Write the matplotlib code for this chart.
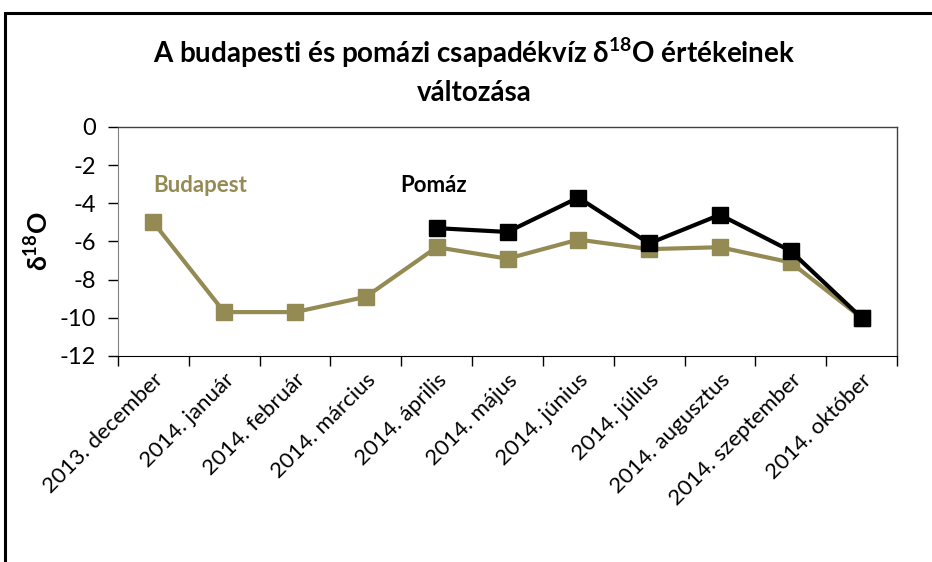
import matplotlib
matplotlib.use('Agg')
import matplotlib.pyplot as plt
import matplotlib.patches as patches

plt.rcParams['font.family'] = ['Lato', 'DejaVu Sans']
plt.rcParams['mathtext.default'] = 'regular'

# Data
months = ['2013. december', '2014. január', '2014. február', '2014. március',
          '2014. április', '2014. május', '2014. június', '2014. július',
          '2014. augusztus', '2014. szeptember', '2014. október']
budapest = [-5.0, -9.7, -9.7, -8.9, -6.3, -6.9, -5.9, -6.4, -6.3, -7.1, -10.0]
pomaz_idx = [4, 5, 6, 7, 8, 9, 10]
pomaz = [-5.3, -5.5, -3.7, -6.1, -4.6, -6.5, -10.0]

olive = '#948A54'

fig = plt.figure(figsize=(9.32, 5.62), dpi=100)
# outer chart border (only left and top visible in the crop)
fig.patches.append(patches.Rectangle((5 / 932, -0.1), 1.2, (562 - 13) / 562 + 0.1,
                                     transform=fig.transFigure, fill=False,
                                     edgecolor='black', linewidth=2.2))

ax = fig.add_axes([118 / 932, 1 - 356 / 562, (897 - 118) / 932, (356 - 127) / 562])

x = list(range(len(months)))
ax.plot(x, budapest, color=olive, linewidth=3, marker='s', markersize=11.5,
        markeredgecolor=olive, markerfacecolor=olive)
ax.plot(pomaz_idx, pomaz, color='black', linewidth=3, marker='s', markersize=11.5,
        markeredgecolor='black', markerfacecolor='black')

ax.set_xlim(-0.5, len(months) - 0.5)
ax.set_ylim(-12, 0)
ax.set_yticks(range(-12, 1, 2))
ax.set_yticklabels([str(v) for v in range(-12, 1, 2)], fontsize=17)

# ticks between categories, labels at centers
ax.set_xticks([i - 0.5 for i in range(len(months) + 1)])
ax.set_xticklabels([])
ax.set_xticks(x, minor=True)
ax.set_xticklabels(months, minor=True, rotation=45, ha='right',
                   rotation_mode='anchor', fontsize=16)
ax.tick_params(axis='x', which='minor', length=0, pad=10)
ax.tick_params(axis='x', which='major', length=7, direction='out', width=1)
ax.tick_params(axis='y', length=7, direction='out', width=1, pad=9)

for s in ['top', 'right']:
    ax.spines[s].set_linewidth(1)
    ax.spines[s].set_color('#404040')
ax.spines['left'].set_color('#808080')
ax.spines['bottom'].set_color('black')

ax.set_ylabel(r'$\delta^{18}$O', fontsize=19, fontweight='bold', labelpad=5)

ax.text(0.66, -3.04, 'Budapest', color=olive, fontsize=16, fontweight='bold',
        ha='center', va='center')
ax.text(3.95, -3.04, 'Pomáz', color='black', fontsize=16, fontweight='bold',
        ha='center', va='center')

fig.text(0.509, 1 - 53 / 562, r'A budapesti és pomázi csapadékvíz δ$^{18}$O értékeinek',
         ha='center', va='center', fontsize=20, fontweight='bold')
fig.text(0.509, 1 - 93 / 562, 'változása',
         ha='center', va='center', fontsize=20, fontweight='bold')

fig.savefig('out.png', dpi=100)
